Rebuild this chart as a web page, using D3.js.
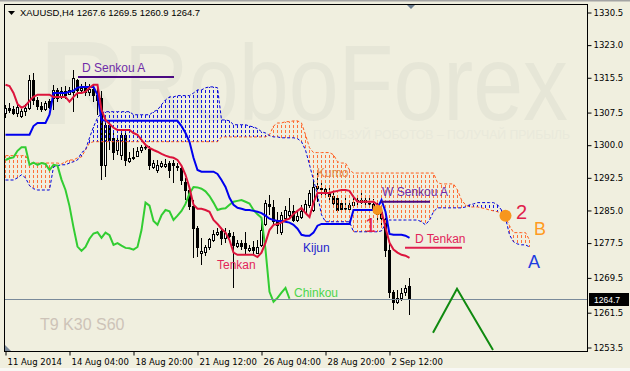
<!DOCTYPE html>
<html>
<head>
<meta charset="utf-8">
<script src="https://cdn.jsdelivr.net/npm/d3@7"></script>
<style>
  body{margin:0;background:#f0efdf;}
  svg{display:block;}
  text{font-family:"Liberation Sans",Arial,sans-serif;}
  .axis text{font-family:"DejaVu Sans",sans-serif;font-size:8.5px;fill:#000;}
</style>
</head>
<body>
<div id="chart"></div>
<script>
var width = 630, height = 371;
var plotLeft = 4, plotTop = 4, plotRight = 588, plotBottom = 352;

var symbol = 'XAUUSD,H4';

// H4 candles, bar 0 = 11 Aug 2014 00:00
var opens = [1307.4,1308.6,1308.4,1307.4,1306.8,1307.9,1308.6,1315.0,1310.4,1309.1,
  1308.4,1310.2,1310.9,1312.7,1311.1,1312.5,1311.8,1312.3,1315.0,1312.7,
  1313.2,1312.3,1313.0,1311.6,1310.9,1295.5,1304.7,1301.7,1298.9,1297.8,
  1302.4,1296.4,1296.9,1297.6,1298.7,1299.6,1299.2,1295.0,1294.3,1295.3,
  1295.3,1296.0,1296.0,1295.0,1294.8,1291.6,1289.7,1286.1,1281.0,1275.3,
  1275.5,1276.6,1278.3,1279.6,1280.3,1278.7,1279.9,1279.2,1276.9,1277.6,
  1277.6,1275.9,1276.6,1275.3,1277.1,1281.9,1286.5,1285.8,1282.6,1279.9,
  1283.3,1283.8,1284.9,1282.8,1283.5,1284.7,1286.1,1285.1,1290.7,1290.2,
  1290.0,1289.3,1288.4,1287.9,1286.7,1285.4,1285.4,1286.3,1287.4,1287.0,
  1287.4,1286.5,1286.5,1285.8,1284.7,1283.1,1276.0,1266.3,1264.0,1264.9,
  1266.3,1267.6];
var highs = [1309.3,1309.7,1309.1,1310.0,1308.4,1309.5,1316.2,1316.6,1311.1,1310.0,
  1310.2,1310.7,1313.9,1313.2,1313.4,1313.6,1313.4,1317.3,1315.3,1314.1,
  1314.6,1314.1,1314.1,1314.1,1312.5,1306.3,1305.4,1303.5,1301.7,1303.5,
  1303.5,1298.5,1299.4,1299.6,1300.1,1300.3,1299.9,1296.6,1296.6,1296.4,
  1296.9,1296.4,1296.6,1295.9,1295.3,1292.5,1290.2,1287.4,1281.5,1278.7,
  1277.1,1278.7,1280.5,1281.0,1281.0,1281.0,1280.5,1280.1,1278.2,1278.2,
  1280.1,1277.1,1278.0,1278.2,1282.8,1287.4,1288.6,1287.4,1284.7,1284.7,
  1286.0,1287.9,1286.3,1285.1,1286.3,1287.4,1289.7,1292.0,1293.6,1291.4,
  1290.7,1290.2,1289.3,1288.6,1287.4,1287.9,1287.4,1287.9,1288.4,1289.3,
  1288.6,1288.4,1287.7,1287.4,1285.6,1284.0,1277.8,1266.8,1266.8,1267.2,
  1267.9,1269.5];
var lows = [1306.3,1307.4,1307.0,1306.5,1306.3,1306.8,1308.1,1309.3,1308.1,1307.7,
  1307.9,1308.4,1308.1,1310.0,1310.7,1310.7,1311.6,1307.7,1310.9,1311.8,
  1311.4,1311.4,1310.0,1307.0,1292.0,1292.7,1298.9,1296.6,1297.8,1296.6,
  1295.3,1295.9,1296.6,1297.3,1298.3,1298.9,1294.3,1294.6,1293.6,1294.8,
  1294.8,1292.5,1291.4,1294.1,1290.9,1287.4,1285.1,1274.1,1274.3,1272.5,
  1274.6,1276.0,1277.8,1279.2,1277.1,1277.6,1278.7,1267.2,1276.4,1276.0,
  1275.0,1275.5,1274.8,1275.0,1276.6,1281.5,1284.0,1281.7,1279.6,1279.4,
  1282.8,1283.3,1282.4,1282.4,1283.1,1284.2,1285.6,1284.7,1287.0,1288.6,
  1287.9,1287.4,1285.6,1284.7,1284.7,1285.1,1285.1,1285.8,1286.1,1286.5,
  1285.6,1286.1,1284.7,1282.4,1281.5,1274.3,1264.9,1262.2,1263.5,1264.2,
  1265.4,1260.9];
var closes = [1308.6,1308.1,1307.4,1308.8,1307.9,1308.6,1315.0,1310.4,1309.1,1308.4,
  1309.7,1308.8,1312.7,1310.9,1312.5,1311.6,1312.7,1315.5,1312.7,1313.2,
  1312.3,1313.0,1311.6,1310.4,1295.5,1304.7,1301.2,1298.5,1301.2,1302.4,
  1296.6,1297.0,1297.2,1298.7,1299.5,1299.5,1295.5,1296.0,1295.5,1295.9,
  1295.7,1294.3,1295.5,1295.3,1292.1,1289.7,1286.0,1281.1,1276.7,1275.7,
  1276.6,1278.5,1279.7,1280.0,1278.7,1279.9,1279.3,1277.1,1277.5,1276.9,
  1276.4,1276.3,1276.0,1276.6,1280.5,1286.8,1286.1,1282.6,1281.7,1283.9,
  1285.1,1284.8,1282.8,1283.8,1284.9,1286.5,1288.9,1290.4,1290.3,1290.0,
  1289.4,1288.3,1286.8,1285.1,1285.4,1285.5,1286.3,1287.0,1287.2,1287.4,
  1287.0,1286.6,1285.1,1284.1,1283.3,1276.0,1266.3,1264.0,1264.9,1266.1,
  1267.2,1264.7];

// Ichimoku T9 K30 S60
var tenkan = [1313.9,1313.6,1312.0,1309.5,1308.6,1309.1,1310.2,1311.1,1311.6,1311.6,
  1311.6,1311.6,1311.1,1311.1,1311.1,1311.1,1310.0,1311.1,1312.0,1312.0,
  1312.3,1313.2,1313.9,1313.9,1308.1,1305.8,1304.9,1304.0,1303.5,1303.5,
  1303.5,1303.5,1302.8,1302.4,1301.2,1300.1,1299.4,1298.9,1298.5,1298.0,
  1297.6,1297.3,1297.1,1296.6,1295.3,1293.2,1290.2,1286.3,1285.4,1285.4,
  1285.1,1284.7,1282.8,1281.9,1280.8,1279.9,1278.2,1275.3,1274.8,1274.8,
  1274.8,1274.8,1274.8,1274.3,1275.3,1277.6,1280.5,1281.7,1281.9,1282.2,
  1282.8,1283.1,1284.2,1284.9,1285.6,1284.4,1283.5,1286.8,1289.0,1289.0,
  1289.0,1289.0,1289.3,1289.5,1289.7,1289.7,1289.5,1288.1,1287.0,1287.0,
  1287.0,1287.0,1287.0,1286.3,1284.9,1281.0,1277.6,1276.0,1275.3,1274.8,
  1274.6,1274.1];
var kijun = [1302.4,1302.4,1302.4,1302.4,1302.4,1302.4,1302.4,1304.4,1305.1,1305.1,
  1305.1,1307.0,1312.0,1312.0,1312.0,1312.0,1312.3,1312.5,1313.2,1313.4,
  1313.4,1313.4,1313.4,1311.6,1305.8,1305.6,1305.6,1305.6,1305.6,1305.6,
  1305.6,1305.6,1305.6,1305.6,1305.6,1305.6,1305.6,1305.6,1305.6,1305.6,
  1305.6,1305.6,1305.6,1305.6,1304.4,1302.8,1300.8,1297.1,1294.3,1293.9,
  1293.9,1293.9,1293.9,1293.4,1292.0,1290.4,1287.9,1286.3,1285.6,1285.4,
  1285.1,1285.1,1284.9,1284.7,1284.4,1283.8,1283.1,1282.8,1282.6,1282.6,
  1282.4,1282.2,1281.7,1280.8,1279.4,1279.2,1279.2,1279.9,1281.5,1281.9,
  1281.9,1281.9,1281.9,1281.9,1281.9,1281.9,1281.9,1285.1,1285.1,1285.1,
  1285.1,1285.1,1285.1,1285.6,1287.4,1284.7,1279.6,1279.4,1279.4,1279.4,
  1279.2,1278.7];
var senkouA = [1297.6,1297.6,1297.6,1297.6,1297.6,1297.6,1295.9,1295.9,1295.9,1295.9,
  1295.9,1295.9,1295.9,1295.9,1295.7,1296.2,1296.6,1296.6,1297.1,1297.3,
  1298.9,1300.5,1300.8,1300.8,1300.8,1300.8,1300.8,1300.8,1300.8,1300.8,
  1300.8,1300.8,1300.8,1300.8,1300.8,1300.8,1300.8,1300.8,1300.8,1300.8,
  1300.8,1300.8,1300.8,1300.8,1300.8,1300.8,1300.8,1300.8,1300.8,1300.8,
  1300.8,1300.8,1300.8,1300.8,1301.9,1301.9,1301.9,1301.9,1301.9,1301.9,
  1301.9,1301.9,1301.9,1301.9,1301.9,1301.9,1302.4,1304.4,1305.1,1305.1,
  1305.4,1305.4,1305.6,1305.6,1305.1,1302.4,1299.4,1298.3,1298.3,1298.3,
  1298.3,1298.3,1297.8,1296.2,1295.9,1295.9,1294.3,1293.6,1293.6,1293.6,
  1293.6,1293.6,1293.6,1293.6,1293.6,1293.6,1293.6,1293.6,1293.6,1293.6,
  1293.6,1293.6,1293.6,1293.6,1293.6,1293.6,1293.6,1293.6,1291.4,1291.1,
  1291.1,1291.1,1291.1,1289.7,1287.4,1286.3,1285.8,1285.8,1285.8,1285.6,
  1285.4,1285.1,1284.9,1284.7,1284.4,1283.5,1281.5,1279.9,1279.9,1279.9,
  1279.9,1278.2];
var senkouB = [1292.0,1292.0,1292.0,1292.5,1293.2,1292.5,1290.7,1290.0,1289.7,1289.7,
  1289.7,1289.7,1295.0,1295.3,1295.5,1295.5,1295.9,1296.2,1296.6,1298.3,
  1298.9,1301.7,1304.2,1306.3,1307.4,1307.7,1307.7,1307.7,1307.7,1307.7,
  1307.7,1307.7,1307.0,1307.0,1307.0,1307.0,1307.0,1307.7,1308.1,1309.3,
  1310.4,1311.1,1311.1,1311.4,1311.4,1311.4,1311.4,1312.0,1312.7,1312.7,
  1313.2,1313.4,1313.4,1313.2,1305.8,1305.8,1305.6,1304.7,1304.7,1304.7,
  1304.7,1304.4,1304.2,1303.8,1303.1,1302.8,1302.2,1301.9,1301.9,1301.7,
  1301.7,1301.7,1301.7,1301.5,1300.8,1298.9,1295.5,1292.0,1288.6,1284.0,
  1282.4,1282.4,1282.4,1282.4,1282.4,1282.4,1282.4,1280.1,1280.1,1280.1,
  1280.1,1280.1,1280.1,1280.1,1280.3,1281.9,1282.8,1282.8,1282.8,1282.8,
  1282.8,1282.8,1282.8,1282.8,1282.4,1281.7,1282.8,1284.7,1285.6,1285.6,
  1285.6,1285.6,1285.6,1285.6,1285.6,1285.8,1286.3,1286.5,1286.8,1286.8,
  1286.8,1286.8,1286.8,1286.3,1285.1,1283.3,1279.4,1277.8,1277.3,1277.1,
  1277.1,1276.6];
var chinkouShift = 30;

var priceTicks = [1330.5,1323.0,1315.5,1307.5,1300.0,1292.5,1285.0,1277.5,1269.5,1261.5,1253.5];
var dateBars = [0,16,32,48,64,80,96];
var dateLabels = ['11 Aug 2014','14 Aug 04:00','18 Aug 20:00','21 Aug 12:00','26 Aug 04:00','28 Aug 20:00','2 Sep 12:00'];

// drawn objects: [bar, price]
var zigzag = [[107,1256.9],[113,1267.0],[122,1252.9]];
var dots = [{bar:93, price:1285.1, r:5},{bar:125, price:1283.8, r:6}];
var levels = [
  {bar1:18.25, bar2:42.25, price:1315.7, color:'#4b0a82'},
  {bar1:94,    bar2:106.25, price:1287.0, color:'#4b0a82'},
  {bar1:100,   bar2:114.25, price:1276.4, color:'#e0204e'}
];
var notes = [
  {text:'D Senkou A', bar:19.25, price:1316.9, color:'#6f2da8', size:12},
  {text:'W Senkou A', bar:94.25, price:1288.4, color:'#6f2da8', size:12},
  {text:'Kumo',       bar:78,    price:1292.7, color:'#e28a4a', size:12},
  {text:'Kijun',      bar:74.5,  price:1275.5, color:'#2424cc', size:12},
  {text:'Tenkan',     bar:53,    price:1271.6, color:'#e2245a', size:12},
  {text:'Chinkou',    bar:72.25, price:1265.1, color:'#4cd64c', size:12},
  {text:'D Tenkan',   bar:102.5, price:1277.6, color:'#e2245a', size:12},
  {text:'1',          bar:90,    price:1280.1, color:'#e0204a', size:20},
  {text:'2',          bar:127.75,price:1283.1, color:'#e0204a', size:20},
  {text:'B',          bar:132.25,price:1279.4, color:'#ff9b1f', size:18},
  {text:'A',          bar:130.75,price:1271.8, color:'#1d3de0', size:18},
  {text:'T9 K30 S60', bar:8.75,  price:1257.6, color:'#cdc3b8', size:16}
];

var x = d3.scaleLinear().domain([0, 1]).range([5, 9]);
var y = d3.scaleLinear().domain([1253.5, 1330.5]).range([347.5, 12.5]);

var svg = d3.select('#chart').append('svg')
  .attr('width', width)
  .attr('height', height);

svg.append('rect').attr('width', width).attr('height', height).attr('fill', '#f0efdf');
svg.append('rect').attr('width', width).attr('height', 1.5).attr('fill', '#a4a4a4');
svg.append('rect').attr('y', 368).attr('width', width).attr('height', 3).attr('fill', '#f8f8f4');

svg.append('clipPath').attr('id', 'clip')
  .append('rect')
  .attr('x', plotLeft + 1).attr('y', plotTop + 1)
  .attr('width', plotRight - plotLeft - 1).attr('height', plotBottom - plotTop - 1);

var plot = svg.append('g').attr('clip-path', 'url(#clip)');

// watermark
plot.append('text')
  .attr('x', 40).attr('y', 124)
  .attr('font-size', '118px').attr('font-weight', 'bold')
  .attr('fill', '#e7e7d8')
  .text('R');
plot.append('text')
  .attr('x', 124).attr('y', 120)
  .attr('font-size', '108px')
  .attr('textLength', 444).attr('lengthAdjust', 'spacingAndGlyphs')
  .attr('fill', '#e6e6d7')
  .text('RoboForex');
plot.append('text')
  .attr('x', 313).attr('y', 139)
  .attr('font-size', '13px')
  .attr('textLength', 257).attr('lengthAdjust', 'spacingAndGlyphs')
  .attr('fill', '#e9e9db')
  .text('ПОЛЬЗУЙ РОБОТОВ – ПОЛУЧАЙ ПРИБЫЛЬ');

// candles
var bars = closes.map(function(c, i){
  return {i: i, o: opens[i], h: highs[i], l: lows[i], c: c};
});

var candles = plot.append('g');
candles.selectAll('line')
  .data(bars)
  .enter().append('line')
  .attr('x1', function(d){ return x(d.i) + 0.5 })
  .attr('x2', function(d){ return x(d.i) + 0.5 })
  .attr('y1', function(d){ return Math.round(y(d.h)) })
  .attr('y2', function(d){ return Math.round(y(d.l)) })
  .attr('stroke', '#000');
candles.selectAll('rect')
  .data(bars)
  .enter().append('rect')
  .attr('x', function(d){ return x(d.i) - 0.5 })
  .attr('width', 2)
  .attr('y', function(d){ return Math.round(Math.min(y(d.o), y(d.c))) + 0.5 })
  .attr('height', function(d){ return Math.max(Math.round(Math.abs(y(d.o) - y(d.c))), 0.5) })
  .attr('fill', function(d){ return d.c >= d.o ? '#fff' : '#000' })
  .attr('stroke', '#000');

// cloud hatching, dashes kept on one vertical grid
var cloud = senkouA.map(function(a, i){ return {i: i, a: a, b: senkouB[i]} });
plot.append('g').selectAll('line')
  .data(cloud)
  .enter().append('line')
  .attr('x1', function(d){ return x(d.i) + 0.5 })
  .attr('x2', function(d){ return x(d.i) + 0.5 })
  .attr('y1', function(d){ return Math.round(y(Math.max(d.a, d.b))) })
  .attr('y2', function(d){ return Math.round(y(Math.min(d.a, d.b))) })
  .attr('stroke', function(d){ return d.a >= d.b ? '#ff7038' : '#1414e0' })
  .attr('stroke-dasharray', '3,2')
  .attr('stroke-dashoffset', function(d){ return Math.round(y(Math.max(d.a, d.b))) % 5 });

var line = d3.line()
  .x(function(d, i){ return x(i) + 0.5 })
  .y(function(d){ return y(d) });

plot.append('path').attr('d', line(senkouA))
  .attr('fill', 'none').attr('stroke', '#ff5a1a').attr('stroke-dasharray', '3,2');
plot.append('path').attr('d', line(senkouB))
  .attr('fill', 'none').attr('stroke', '#0000d8').attr('stroke-dasharray', '3,2');

var chinkou = closes.slice(chinkouShift);
plot.append('path').attr('d', line(chinkou))
  .attr('fill', 'none').attr('stroke', '#32cd32').attr('stroke-width', 2);
plot.append('path').attr('d', line(kijun))
  .attr('fill', 'none').attr('stroke', '#0000ee').attr('stroke-width', 2);
plot.append('path').attr('d', line(tenkan))
  .attr('fill', 'none').attr('stroke', '#dc143c').attr('stroke-width', 2);

// current price line
var last = bars[bars.length - 1];
var py = Math.round(y(last.c)) + 0.5;
plot.append('line')
  .attr('x1', plotLeft).attr('x2', plotRight)
  .attr('y1', py).attr('y2', py)
  .attr('stroke', '#7a8a9a');

// objects
plot.selectAll('line.level')
  .data(levels)
  .enter().append('line')
  .attr('class', 'level')
  .attr('x1', function(d){ return x(d.bar1) })
  .attr('x2', function(d){ return x(d.bar2) })
  .attr('y1', function(d){ return y(d.price) })
  .attr('y2', function(d){ return y(d.price) })
  .attr('stroke', function(d){ return d.color })
  .attr('stroke-width', 2);

plot.append('path')
  .attr('d', d3.line()
    .x(function(d){ return x(d[0]) })
    .y(function(d){ return y(d[1]) })(zigzag))
  .attr('fill', 'none').attr('stroke', '#108a10').attr('stroke-width', 2);

plot.selectAll('circle')
  .data(dots)
  .enter().append('circle')
  .attr('cx', function(d){ return x(d.bar) + 0.5 })
  .attr('cy', function(d){ return y(d.price) })
  .attr('r', function(d){ return d.r })
  .attr('fill', '#f7961e');

plot.selectAll('text.note')
  .data(notes)
  .enter().append('text')
  .attr('class', 'note')
  .attr('x', function(d){ return x(d.bar) })
  .attr('y', function(d){ return y(d.price) })
  .attr('font-size', function(d){ return d.size + 'px' })
  .attr('fill', function(d){ return d.color })
  .text(function(d){ return d.text });

// title
svg.append('path').attr('d', 'M8,11H15L11.5,15Z').attr('fill', '#000');
svg.append('text')
  .attr('x', 20).attr('y', 16)
  .attr('font-family', 'DejaVu Sans').attr('font-size', '9px')
  .attr('textLength', 180).attr('lengthAdjust', 'spacingAndGlyphs')
  .attr('fill', '#000')
  .text(symbol + '  ' + [last.o, last.h, last.l, last.c].map(d3.format('.1f')).join(' '));

// frame
svg.append('rect')
  .attr('x', plotLeft + 0.5).attr('y', plotTop + 0.5)
  .attr('width', plotRight - plotLeft - 1).attr('height', plotBottom - plotTop - 1)
  .attr('fill', 'none').attr('stroke', '#000');
svg.append('path').attr('d', 'M407,5H415L411,9Z').attr('fill', '#6d7f91');
svg.append('path').attr('d', 'M5,345V351H11Z').attr('fill', '#7a8898');

// axes
var yAxis = svg.append('g')
  .attr('class', 'axis')
  .attr('transform', 'translate(' + (plotRight - 0.5) + ',0)')
  .call(d3.axisRight(y).tickValues(priceTicks).tickSize(4).tickPadding(2).tickFormat(d3.format('.1f')));
yAxis.select('.domain').remove();

var xAxis = svg.append('g')
  .attr('class', 'axis')
  .attr('transform', 'translate(0,' + (plotBottom - 0.5) + ')')
  .call(d3.axisBottom(x).tickValues(dateBars).tickSize(4).tickPadding(3)
    .tickFormat(function(d, i){ return dateLabels[i] }));
xAxis.select('.domain').remove();
xAxis.selectAll('.tick line').attr('transform', 'translate(0.5,0)');
xAxis.selectAll('.tick text').attr('text-anchor', 'start').attr('dx', 2);

// last price tag
svg.append('rect')
  .attr('x', plotRight + 1).attr('y', py - 6.5)
  .attr('width', 40).attr('height', 13)
  .attr('fill', '#000');
svg.append('text')
  .attr('x', plotRight + 6).attr('y', py + 3)
  .attr('font-family', 'DejaVu Sans').attr('font-size', '8.5px')
  .attr('fill', '#fff')
  .text(d3.format('.1f')(last.c));
</script>
</body>
</html>
